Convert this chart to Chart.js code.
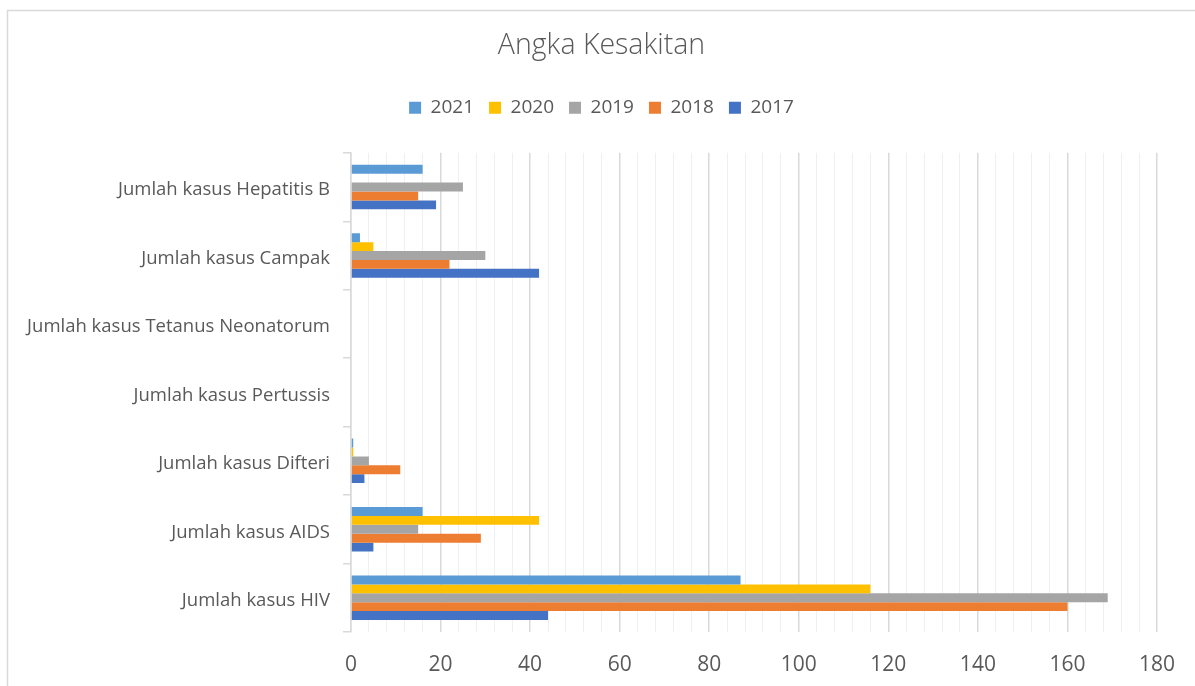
<!DOCTYPE html>
<html>
<head>
<meta charset="utf-8">
<script src="https://cdn.jsdelivr.net/npm/chart.js@4"></script>
<style>
  html, body { margin: 0; padding: 0; background: #ffffff; }
  #wrap { position: relative; width: 1195px; height: 686px; }
  canvas { display: block; }
</style>
</head>
<body>
<div id="wrap"><canvas id="c" width="1195" height="686"></canvas></div>
<script>
const chartTitle = "Angka Kesakitan";
const categories = [
  "Jumlah kasus Hepatitis B",
  "Jumlah kasus Campak",
  "Jumlah kasus Tetanus Neonatorum",
  "Jumlah kasus Pertussis",
  "Jumlah kasus Difteri",
  "Jumlah kasus AIDS",
  "Jumlah kasus HIV"
];
const seriesNames = ["2021", "2020", "2019", "2018", "2017"];
const values2021 = [16, 2, 0, 0, 0.5, 16, 87];
const values2020 = [0, 5, 0, 0, 0.5, 42, 116];
const values2019 = [25, 30, 0, 0, 4, 15, 169];
const values2018 = [15, 22, 0, 0, 11, 29, 160];
const values2017 = [19, 42, 0, 0, 3, 5, 44];
const seriesColors = ["#5B9BD5", "#FFC000", "#A5A5A5", "#ED7D31", "#4472C4"];
const xMin = 0, xMax = 180, xMajorStep = 20, xMinorStep = 4;

const allValues = [values2021, values2020, values2019, values2018, values2017];
const datasets = seriesNames.map((name, i) => ({
  label: name,
  data: allValues[i],
  backgroundColor: seriesColors[i],
  borderWidth: 0,
  categoryPercentage: 0.65,
  barPercentage: 1.0
}));

const FONT = "'Open Sans', 'Liberation Sans', sans-serif";
const TEXT = "#595959";

const frame = {
  id: 'frame',
  beforeDraw(chart) {
    const ctx = chart.ctx;
    ctx.save();
    ctx.strokeStyle = '#D9D9D9';
    ctx.lineWidth = 1.5;
    ctx.beginPath();
    ctx.moveTo(7.5, 686);
    ctx.lineTo(7.5, 10.5);
    ctx.lineTo(1195, 10.5);
    ctx.stroke();
    ctx.restore();
  }
};

const LEGEND_BLOCK_HEIGHT = 69.6;
const legendSpace = {
  id: 'legendSpace',
  beforeInit(chart) {
    const lg = chart.legend;
    if (lg && !lg._patched) {
      const origFit = lg.fit;
      lg.fit = function () {
        origFit.call(this);
        this.height = LEGEND_BLOCK_HEIGHT;
      };
      lg._patched = true;
    }
  }
};

new Chart(document.getElementById('c'), {
  type: 'bar',
  data: { labels: categories, datasets },
  plugins: [frame, legendSpace],
  options: {
    responsive: false,
    animation: false,
    indexAxis: 'y',
    layout: { padding: { top: 10, left: 46, right: 38, bottom: 0 } },
    plugins: {
      title: {
        display: true,
        text: chartTitle,
        color: TEXT,
        font: { family: FONT, size: 28.5, weight: '300', lineHeight: 1.2 },
        padding: { top: 19, bottom: 20 }
      },
      legend: {
        display: true,
        position: 'top',
        labels: {
          color: TEXT,
          font: { family: FONT, size: 19 },
          boxWidth: 12,
          boxHeight: 12,
          padding: 15
        }
      },
      tooltip: { enabled: false }
    },
    scales: {
      x: {
        type: 'linear',
        position: 'bottom',
        min: xMin,
        max: xMax,
        border: { display: false },
        grid: {
          drawTicks: false,
          color: (c) => (c.tick && c.tick.value % xMajorStep === 0) ? '#D9D9D9' : '#F0F0F0',
          lineWidth: (c) => (c.tick && c.tick.value % xMajorStep === 0) ? 1.5 : 1
        },
        ticks: {
          stepSize: xMinorStep,
          autoSkip: false,
          maxRotation: 0,
          color: TEXT,
          font: { family: FONT, size: 21 },
          padding: 20,
          callback: (v) => (v % xMajorStep === 0 ? String(v) : '')
        },
        afterFit(s) { s.height = 54; }
      },
      y: {
        type: 'category',
        offset: true,
        border: { display: true, color: '#D9D9D9', width: 1.5 },
        grid: {
          offset: true,
          drawOnChartArea: false,
          drawTicks: true,
          tickLength: 8,
          color: '#D9D9D9',
          lineWidth: 1.5
        },
        ticks: {
          color: TEXT,
          font: { family: FONT, size: 18.5 },
          padding: 13,
          labelOffset: 3,
          autoSkip: false
        },
        afterFit(s) {
          s.width = 351 - 46;
          s._computeLabelArea = () => undefined;
        }
      }
    }
  }
});
</script>
</body>
</html>
